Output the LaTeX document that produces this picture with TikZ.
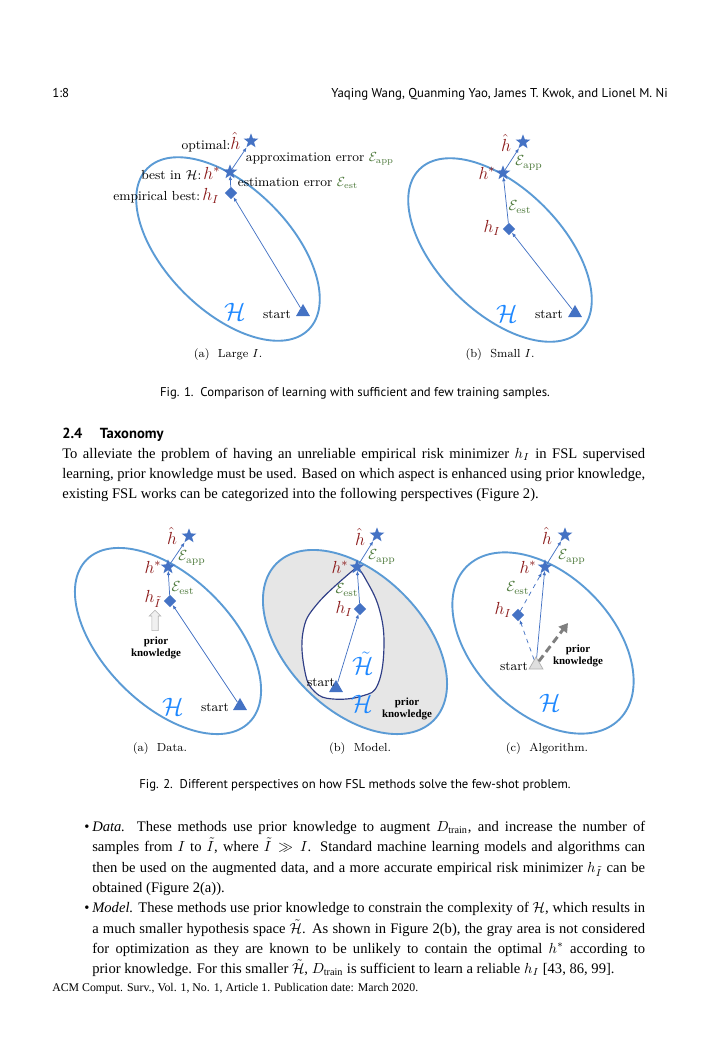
\documentclass[tikz,border=0pt]{standalone}
\usepackage{fontspec}
\usepackage{amsmath,amssymb}
\usepackage{tikz}
\usetikzlibrary{arrows.meta,shapes.geometric,shapes.arrows}
\newfontfamily\bodyfont{Liberation Serif}
\newfontfamily\capfont{PT Sans}
\definecolor{mk}{HTML}{4472C4}
\definecolor{hsp}{HTML}{5B9BD5}
\definecolor{hred}{HTML}{8B1A1A}
\definecolor{egr}{HTML}{4E7A3C}
\definecolor{calb}{HTML}{1E88FF}
\definecolor{navy}{HTML}{2F3E86}
\definecolor{pkg}{HTML}{7F7F7F}
\definecolor{shade}{HTML}{E6E6E6}
\newlength\pw \setlength\pw{399.6pt}
\newlength\bw \setlength\bw{379pt}
\tikzset{
  hstar/.style={star,star points=5,star point ratio=2.4,fill=mk,minimum size=10.5pt,inner sep=0pt},
  hdia/.style={diamond,fill=mk,minimum size=8.5pt,inner sep=0pt},
  strt/.style={regular polygon,regular polygon sides=3,fill=mk,minimum size=11pt,inner sep=0pt},
  hl/.style={text=hred,font=\fontsize{12}{14}\selectfont,inner sep=1pt},
  el/.style={text=egr,font=\fontsize{10}{12}\selectfont,inner sep=1pt},
  tl/.style={font=\fontsize{9}{11}\selectfont,inner sep=1pt},
  hcal/.style={text=calb,font=\fontsize{17}{20}\selectfont,inner sep=0pt},
  subcap/.style={font=\fontsize{8}{10}\selectfont,inner sep=0pt,anchor=base},
  pk/.style={font=\bodyfont\bfseries\fontsize{7.5}{8.5}\selectfont,align=center,inner sep=0pt},
  ar/.style={-{Latex[length=3pt,width=2.4pt]},draw=mk,line width=0.5pt},
  dar/.style={ar,dashed},
  pka/.style={-{Triangle[length=6pt,width=7pt]},draw=pkg,line width=2pt,dash pattern=on 5pt off 3pt},
  hspace/.style={draw=hsp,line width=1.3pt,fill=white},
  jl/.style={anchor=base west,inner sep=0pt,font=\bodyfont,text height=7pt,text depth=2pt},
  figcap/.style={anchor=base,inner sep=0pt,font=\capfont\fontsize{8.7}{10}\selectfont}}

\begin{document}
\begin{tikzpicture}[x=0.6855pt,y=-0.6855pt]
\useasboundingbox (0,0) rectangle (709,1050);
\fill[white] (0,0) rectangle (709,1050);
% running head
\node[figcap,anchor=base west,font=\capfont\fontsize{8.8}{10}\selectfont] (pg) at (52,97) {1:8};
\node[figcap,anchor=base east,font=\capfont\fontsize{8.8}{10}\selectfont] (au) at (668,97) {Yaqing Wang, Quanming Yao, James T. Kwok, and Lionel M. Ni};

% fig 1 (a) large I
\draw[hspace] (228,249) ellipse [x radius=114,y radius=62,rotate=-45];
\node[hstar] (hh1) at (251,141) {};
\node[hstar] (hs1) at (230,172) {};
\node[hdia] (hi1) at (231,193) {};
\node[strt] (st1) at (303,312) {};
\draw[ar] (st1) -- (hi1); \draw[ar] (hi1) -- (hs1); \draw[ar] (hs1) -- (hh1);
\node[tl,anchor=east] (lo1) at (242,142) {optimal:\textcolor{hred}{\fontsize{12}{14}\selectfont$\hat{h}$}};
\node[tl,anchor=east] (lb1) at (222,173) {best in $\mathcal{H}$:\,\textcolor{hred}{\fontsize{12}{14}\selectfont$h^*$}};
\node[tl,anchor=east] (le1) at (221,196) {empirical best:\,\textcolor{hred}{\fontsize{12}{14}\selectfont$h_I$}};
\node[tl,anchor=west] (la1) at (244,159) {approximation error \textcolor{egr}{$\mathcal{E}_{\mathrm{app}}$}};
\node[tl,anchor=west] (lt1) at (236,183) {estimation error \textcolor{egr}{$\mathcal{E}_{\mathrm{est}}$}};
\node[tl] (ls1) at (277,315) {start};
\node[hcal] (H1) at (235,312) {$\mathcal{H}$};
\node[subcap] (c1) at (228,357) {(a)\ \ Large $I$.};

% fig 1 (b) small I
\draw[hspace] (500,250) ellipse [x radius=114,y radius=62,rotate=-45];
\node[hstar] (hh2) at (523,142) {};
\node[hstar] (hs2) at (503,173) {};
\node[hdia] (hi2) at (509,229) {};
\node[strt] (st2) at (575,313) {};
\draw[ar] (st2) -- (hi2); \draw[ar] (hi2) -- (hs2); \draw[ar] (hs2) -- (hh2);
\node[hl] (lh2) at (506,143) {$\hat{h}$};
\node[hl] (ls2) at (487,173) {$h^*$};
\node[hl] (li2) at (492,228) {$h_I$};
\node[el] (ea2) at (529,163) {$\mathcal{E}_{\mathrm{app}}$};
\node[el] (ee2) at (520,207) {$\mathcal{E}_{\mathrm{est}}$};
\node[tl] (sl2) at (549,315) {start};
\node[hcal] (H2) at (507,314) {$\mathcal{H}$};
\node[subcap] (c2) at (500,357) {(b)\ \ Small $I$.};

\node[figcap] (f1) at (355,396) {Fig. 1.\ \ Comparison of learning with sufficient and few training samples.};

% section text
\node[anchor=base west,inner sep=0pt,font=\capfont\bfseries\fontsize{10}{12}\selectfont] (sec) at (62,438) {2.4\hspace{12pt}Taxonomy};
\node[jl] (p1) at (62,458) {\makebox[\pw][s]{To alleviate the problem of having an unreliable empirical risk minimizer $h_I$ in FSL supervised}};
\node[jl] (p2) at (62,478) {\makebox[\pw][s]{learning, prior knowledge must be used. Based on which aspect is enhanced using prior knowledge,}};
\node[jl] (p3) at (62,498) {existing FSL works can be categorized into the following perspectives (Figure 2).};

% fig 2 (a) data
\draw[hspace] (168,641) ellipse [x radius=115,y radius=64,rotate=-45];
\node[hstar] (hh3) at (189,536) {};
\node[hstar] (hs3) at (168,567) {};
\node[hdia] (hi3) at (170,601) {};
\node[strt] (st3) at (240,706) {};
\draw[ar] (st3) -- (hi3); \draw[ar] (hi3) -- (hs3); \draw[ar] (hs3) -- (hh3);
\node[single arrow,draw=gray!60,fill=gray!12,rotate=90,minimum height=14pt,inner xsep=0pt,inner ysep=2pt,single arrow head extend=1.8pt] (ua3) at (155,622) {};
\node[hl] (lh3) at (172,536) {$\hat{h}$};
\node[hl] (ls3) at (153,567) {$h^*$};
\node[hl] (li3) at (153,599) {$h_{\tilde{I}}$};
\node[el] (ea3) at (192,558) {$\mathcal{E}_{\mathrm{app}}$};
\node[el] (ee3) at (183,588) {$\mathcal{E}_{\mathrm{est}}$};
\node[pk] (pk3) at (156,648) {prior\\knowledge};
\node[tl] (sl3) at (215,708) {start};
\node[hcal] (H3) at (173,707) {$\mathcal{H}$};
\node[subcap] (c3) at (160,751) {(a)\ \ Data.};

% fig 2 (b) model
\draw[hspace,fill=shade] (355,642) ellipse [x radius=111,y radius=68,rotate=-45];
\draw[navy,line width=0.8pt,fill=white] plot[smooth,tension=0.7] coordinates {(357,567) (318,603) (303,632) (305,672) (315,692) (333,699) (362,696) (378,684) (384,645) (379,608) (365,578) (357,567)};
\node[hstar] (hh4) at (377,535) {};
\node[hstar] (hs4) at (357,567) {};
\node[hdia] (hi4) at (360,609) {};
\node[strt] (st4) at (336,688) {};
\draw[ar] (st4) -- (hi4); \draw[ar] (hi4) -- (hs4); \draw[ar] (hs4) -- (hh4);
\node[hl] (lh4) at (360,537) {$\hat{h}$};
\node[hl] (ls4) at (340,567) {$h^*$};
\node[hl] (li4) at (344,609) {$h_I$};
\node[el] (ea4) at (382,557) {$\mathcal{E}_{\mathrm{app}}$};
\node[el] (ee4) at (347,590) {$\mathcal{E}_{\mathrm{est}}$};
\node[hcal] (Ht4) at (363,663) {$\tilde{\mathcal{H}}$};
\node[tl] (sl4) at (321,683) {start};
\node[hcal] (H4) at (362,704) {$\mathcal{H}$};
\node[pk] (pk4) at (407,709) {prior\\knowledge};
\node[subcap] (c4) at (360,751) {(b)\ \ Model.};

% fig 2 (c) algorithm
\draw[hspace] (543,643) ellipse [x radius=108,y radius=69,rotate=-45];
\node[hstar] (hh5) at (565,535) {};
\node[hstar] (hs5) at (545,567) {};
\node[hdia] (hi5) at (518,615) {};
\node[strt,fill=gray!25,draw=gray!60,line width=0.5pt] (st5) at (536,665) {};
\coordinate (pt5) at (568,623);
\draw[pka] (st5) -- (pt5);
\draw[ar] (st5) -- (hs5); \draw[dar] (st5) -- (hi5); \draw[dar] (hi5) -- (hs5); \draw[ar] (hs5) -- (hh5);
\node[hl] (lh5) at (547,536) {$\hat{h}$};
\node[hl] (ls5) at (528,567) {$h^*$};
\node[hl] (li5) at (503,610) {$h_I$};
\node[el] (ea5) at (572,557) {$\mathcal{E}_{\mathrm{app}}$};
\node[el] (ee5) at (518,588) {$\mathcal{E}_{\mathrm{est}}$};
\node[tl] (sl5) at (514,667) {start};
\node[pk] (pk5) at (578,656) {prior\\knowledge};
\node[hcal] (H5) at (550,703) {$\mathcal{H}$};
\node[subcap] (c5) at (547,751) {(c)\ \ Algorithm.};

\node[figcap] (f2) at (355,788) {Fig. 2.\ \ Different perspectives on how FSL methods solve the few-shot problem.};

% bullets
\node[jl] (b1) at (84,831) {\textbullet};
\node[jl] (d1) at (92,831) {\makebox[\bw][s]{\textit{Data.} These methods use prior knowledge to augment $D_{\text{train}}$, and increase the number of}};
\node[jl] (d2) at (92,851) {\makebox[\bw][s]{samples from $I$ to $\tilde{I}$, where $\tilde{I} \gg I$. Standard machine learning models and algorithms can}};
\node[jl] (d3) at (92,872) {\makebox[\bw][s]{then be used on the augmented data, and a more accurate empirical risk minimizer $h_{\tilde{I}}$ can be}};
\node[jl] (d4) at (92,892) {obtained (Figure 2(a)).};
\node[jl] (b2) at (84,912) {\textbullet};
\node[jl] (m1) at (92,912) {\makebox[\bw][s]{\textit{Model.} These methods use prior knowledge to constrain the complexity of $\mathcal{H}$, which results in}};
\node[jl] (m2) at (92,933) {\makebox[\bw][s]{a much smaller hypothesis space $\tilde{\mathcal{H}}$. As shown in Figure 2(b), the gray area is not considered}};
\node[jl] (m3) at (92,953) {\makebox[\bw][s]{for optimization as they are known to be unlikely to contain the optimal $h^*$ according to}};
\node[jl] (m4) at (92,973) {prior knowledge. For this smaller $\tilde{\mathcal{H}}$, $D_{\text{train}}$ is sufficient to learn a reliable $h_I$ [43, 86, 99].};

% footer
\node[jl,font=\bodyfont\fontsize{8.1}{10}\selectfont] (ft) at (52,991) {ACM Comput. Surv., Vol. 1, No. 1, Article 1. Publication date: March 2020.};
\end{tikzpicture}
\end{document}
